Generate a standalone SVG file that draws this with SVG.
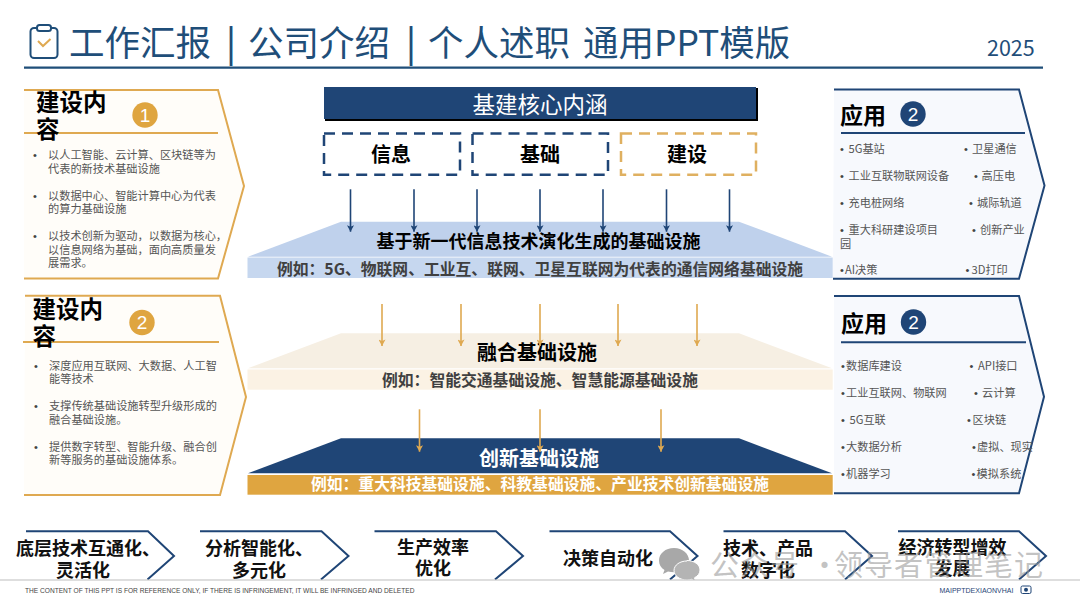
<svg xmlns="http://www.w3.org/2000/svg" width="1080" height="608" viewBox="0 0 1080 608">
<style>
text{font-family:"Noto Sans CJK SC","Liberation Sans",sans-serif}
.b{font-size:11.2px;fill:#555}
.d{font-size:11px;fill:#444;text-anchor:middle;font-family:"Liberation Sans",sans-serif}
.ph{font-size:23.5px;font-weight:700;fill:#000}
.apply{font-size:23px;font-weight:700;fill:#000}
.num{font-size:19px;fill:#fff;text-anchor:middle;font-family:"Liberation Sans",sans-serif}
.gp{fill:#fffdf9;stroke:#dfa951;stroke-width:2}
.np{fill:#f7f9fd;stroke:#1f4576;stroke-width:2}
.gl{stroke:#dfa951;stroke-width:2;fill:none}
.nl{stroke:#1f4576;stroke-width:2;fill:none}
.box{font-size:20px;font-weight:700;fill:#000;text-anchor:middle}
.h{font-size:18px;font-weight:700;text-anchor:middle}
.h2{font-size:20px;font-weight:700;text-anchor:middle}
.s{font-size:15.8px;font-weight:700;text-anchor:middle}
.c{font-size:18px;font-weight:700;fill:#111;text-anchor:middle}
.ch{fill:none;stroke:#1f4576;stroke-width:2}
.an{stroke:#1f4576;stroke-width:1.6;fill:none}
.ag{stroke:#dfa951;stroke-width:1.6;fill:none}
.wm{font-size:29px;fill:#9a9a9a;fill-opacity:.6;letter-spacing:1px}
.dash{fill:none;stroke-width:2.5;stroke-dasharray:11 7}
.ft{font-family:"Liberation Sans",sans-serif}
</style>
<defs>
<marker id="mg" markerUnits="userSpaceOnUse" markerWidth="7" markerHeight="10" refX="3.500" refY="9" viewBox="0 0 7 10"><path d="M0 2.500L3.500 4L7 2.500L3.500 9Z" fill="#dfa951"/></marker>
<marker id="mb" markerUnits="userSpaceOnUse" markerWidth="7" markerHeight="10" refX="3.500" refY="9" viewBox="0 0 7 10"><path d="M0 2.500L3.500 4L7 2.500L3.500 9Z" fill="#1f4576"/></marker>
</defs>
<rect width="1080" height="608" fill="#fff"/>

<g id="header">
<rect x="30.500" y="28" width="27" height="30" rx="3.500" fill="none" stroke="#1f4e79" stroke-width="2"/>
<rect x="37" y="25" width="14" height="6" rx="2.500" fill="#fff" stroke="#1f4e79" stroke-width="2"/>
<path d="M38 41L43 46L50.500 39" fill="none" stroke="#dfa951" stroke-width="2"/>
<text y="56" font-size="35.500" fill="#1f4e79"><tspan x="69">工作汇报</tspan><tspan x="226" font-weight="500">|</tspan><tspan x="248">公司介绍</tspan><tspan x="406" font-weight="500">|</tspan><tspan x="428">个人述职</tspan><tspan x="583">通用PPT模版</tspan></text>
<text x="987" y="56" font-size="21.500" fill="#1f4e79">2025</text>
<path d="M24 67.700H1043" stroke="#1f4e79" stroke-width="2.200"/>
</g>

<g id="panel-left-1">
<path class="gp" d="M24 90H218L244 186L218 278.500H24"/>
<path class="gl" d="M24 133H218"/>
<text class="ph" x="36" y="111">建设内</text><text class="ph" x="36" y="138">容</text>
<circle cx="145" cy="115" r="12.700" fill="#dfa540"/><text class="num" x="145" y="121.500">1</text>
<text class="d" x="35" y="159">•</text><text class="b" x="48" y="159">以人工智能、云计算、区块链等为</text>
<text class="b" x="48" y="172.500">代表的新技术基础设施</text>
<text class="d" x="35" y="200">•</text><text class="b" x="48" y="200">以数据中心、智能计算中心为代表</text>
<text class="b" x="48" y="213">的算力基础设施</text>
<text class="d" x="35" y="240">•</text><text class="b" x="48" y="240">以技术创新为驱动，以数据为核心，</text>
<text class="b" x="48" y="253.500">以信息网络为基础，面向高质量发</text>
<text class="b" x="48" y="267">展需求。</text>
</g>

<g id="panel-left-2">
<path class="gp" d="M25 295.700H220L246 397L220 495H24"/>
<path class="gl" d="M23 342H219"/>
<text class="ph" x="32.500" y="318">建设内</text><text class="ph" x="32.500" y="345">容</text>
<circle cx="142" cy="322.500" r="12.700" fill="#dfa540"/><text class="num" x="142" y="329">2</text>
<text class="d" x="36" y="369.700">•</text><text class="b" x="49" y="369.700">深度应用互联网、大数据、人工智</text>
<text class="b" x="49" y="383.300">能等技术</text>
<text class="d" x="36" y="410.300">•</text><text class="b" x="49" y="410.300">支撑传统基础设施转型升级形成的</text>
<text class="b" x="49" y="424">融合基础设施。</text>
<text class="d" x="36" y="450.700">•</text><text class="b" x="49" y="450.700">提供数字转型、智能升级、融合创</text>
<text class="b" x="49" y="464.300">新等服务的基础设施体系。</text>
</g>

<g id="panel-right-1">
<path class="np" d="M834 89.500H1019L1044.500 185.500L1019 278.700H833"/>
<path class="nl" d="M841 133H1025"/>
<text class="apply" x="840" y="124">应用</text>
<circle cx="913" cy="114" r="12.700" fill="#1f4576"/><text class="num" x="913" y="120.500">2</text>
<text class="d" x="842" y="153">•</text><text class="b" x="848.500" y="153">5G基站</text><text class="d" x="966" y="153">•</text><text class="b" x="972" y="153">卫星通信</text>
<text class="d" x="842" y="180">•</text><text class="b" x="848.500" y="180">工业互联物联网设备</text><text class="d" x="976" y="180">•</text><text class="b" x="981.500" y="180">高压电</text>
<text class="d" x="842" y="207">•</text><text class="b" x="848.500" y="207">充电桩网络</text><text class="d" x="971" y="207">•</text><text class="b" x="977" y="207">城际轨道</text>
<text class="d" x="842" y="234">•</text><text class="b" x="848.500" y="234">重大科研建设项目</text><text class="d" x="974" y="234">•</text><text class="b" x="980" y="234">创新产业</text>
<text class="b" x="840" y="247.700">园</text>
<text class="d" x="842" y="274.300">•</text><text class="b" x="845" y="274.300">AI决策</text><text class="d" x="967.500" y="274.300">•</text><text class="b" x="971.500" y="274.300">3D打印</text>
</g>

<g id="panel-right-2">
<path class="np" d="M834 296H1019L1044 396.700L1019 493.300H834"/>
<path class="nl" d="M841 342.300H1026"/>
<text class="apply" x="841" y="332">应用</text>
<circle cx="913.500" cy="322" r="12.700" fill="#1f4576"/><text class="num" x="913.500" y="328.500">2</text>
<text class="d" x="843" y="370">•</text><text class="b" x="846" y="370">数据库建设</text><text class="d" x="971.500" y="370">•</text><text class="b" x="978" y="370">API接口</text>
<text class="d" x="843" y="397.300">•</text><text class="b" x="846" y="397.300">工业互联网、物联网</text><text class="d" x="976" y="397.300">•</text><text class="b" x="982" y="397.300">云计算</text>
<text class="d" x="843" y="424.300">•</text><text class="b" x="849.500" y="424.300">5G互联</text><text class="d" x="969" y="424.300">•</text><text class="b" x="972.500" y="424.300">区块链</text>
<text class="d" x="843" y="451.300">•</text><text class="b" x="846" y="451.300">大数据分析</text><text class="d" x="974" y="451.300">•</text><text class="b" x="977" y="451.300">虚拟、现实</text>
<text class="d" x="843" y="478.300">•</text><text class="b" x="846" y="478.300">机器学习</text><text class="d" x="973.500" y="478.300">•</text><text class="b" x="976.600" y="478.300">模拟系统</text>
</g>

<g id="banner">
<rect x="325" y="88" width="433" height="33" fill="#000"/>
<rect x="324" y="87" width="432" height="32" fill="#1f4576"/>
<text x="540" y="113" font-size="22.500" fill="#fff" text-anchor="middle">基建核心内涵</text>
</g>
<g id="box-info"><rect class="dash" x="324" y="133.500" width="136" height="41.200" stroke="#1f4576"/><text class="box" x="391" y="162">信息</text></g>
<g id="box-base"><rect class="dash" x="472.500" y="133.500" width="135.500" height="41.200" stroke="#1f4576"/><text class="box" x="540" y="162">基础</text></g>
<g id="box-build"><rect class="dash" x="621" y="133.500" width="135" height="41.200" stroke="#dfb060"/><text class="box" x="687" y="162">建设</text></g>

<g id="layer-1">
<path d="M341 221.700H739L832 256.700H248Z" fill="#bfd1ec"/>
<rect x="247.500" y="257.500" width="585.200" height="20.500" fill="#c6d7ef"/>
<text class="h" x="538.500" y="248" fill="#000">基于新一代信息技术演化生成的基础设施</text>
<text class="s" x="540" y="274.500" fill="#404040">例如：5G、物联网、工业互、联网、卫星互联网为代表的通信网络基础设施</text>
</g>
<g id="layer-2">
<path d="M341 333.300H739L832 368.300H248Z" fill="#f6efe3"/>
<rect x="247.500" y="369.500" width="585.200" height="20.200" fill="#fbf2e4"/>
<text class="h2" x="537" y="360" fill="#000">融合基础设施</text>
<text class="s" x="540" y="386" fill="#404040">例如：智能交通基础设施、智慧能源基础设施</text>
</g>
<g id="layer-3">
<path d="M341 438.300H739L832 473.300H248Z" fill="#1f4576"/>
<rect x="247.500" y="475" width="585.200" height="19.700" fill="#dfa540"/>
<text class="h2" x="539" y="466" fill="#fff">创新基础设施</text>
<text class="s" x="540" y="490" fill="#fff">例如：重大科技基础设施、科教基础设施、产业技术创新基础设施</text>
</g>

<g id="connectors">
<path class="an" marker-end="url(#mb)" d="M350.500 189.300V231.700"/>
<path class="an" marker-end="url(#mb)" d="M414 189.300V231.700"/>
<path class="an" marker-end="url(#mb)" d="M477 189.300V231.700"/>
<path class="an" marker-end="url(#mb)" d="M540 189.300V231.700"/>
<path class="an" marker-end="url(#mb)" d="M603 189.300V231.700"/>
<path class="an" marker-end="url(#mb)" d="M666.500 189.300V231.700"/>
<path class="an" marker-end="url(#mb)" d="M729.500 189.300V231.700"/>
<path class="ag" marker-end="url(#mg)" d="M382 304V346"/>
<path class="ag" marker-end="url(#mg)" d="M461 304V346"/>
<path class="ag" marker-end="url(#mg)" d="M540 304V346"/>
<path class="ag" marker-end="url(#mg)" d="M618 304V346"/>
<path class="ag" marker-end="url(#mg)" d="M697 304V346"/>
<path class="ag" marker-end="url(#mg)" d="M419.500 409.300V451.700"/>
<path class="ag" marker-end="url(#mg)" d="M540 409.300V451.700"/>
<path class="ag" marker-end="url(#mg)" d="M661 409.300V451.700"/>
</g>

<g id="step-1"><path class="ch" d="M26 531.300H148L174 556L147.500 579.500"/><text class="c" x="88" y="555">底层技术互通化、</text><text class="c" x="83" y="577">灵活化</text></g>
<g id="step-2"><path class="ch" d="M200 531.300H321.500L348.500 556L321 579.500"/><text class="c" x="259" y="555">分析智能化、</text><text class="c" x="259" y="577">多元化</text></g>
<g id="step-3"><path class="ch" d="M374.500 531.300H496L523 556L495 579.500"/><text class="c" x="433" y="553.500">生产效率</text><text class="c" x="433" y="575">优化</text></g>
<g id="step-4"><path class="ch" d="M549.500 531.300H670L697.500 556L670 579.500"/><text class="c" x="608" y="564.500">决策自动化</text></g>
<g id="step-5"><path class="ch" d="M723.500 531.300H845L872 556L845 579.500"/><text class="c" x="768" y="555">技术、产品</text><text class="c" x="768" y="577">数字化</text></g>
<g id="step-6"><path class="ch" d="M898 531.300H1019L1046 556L1019 579.500"/><text class="c" x="952.500" y="553.500">经济转型增效</text><text class="c" x="952.500" y="575">发展</text></g>

<g id="watermark">
<path d="M674 548c-8.500 0-15 5.500-15 12.500 0 4 2 7.500 5.500 9.500l-1.500 4 5-2.500c2 .5 4 .8 6 .8 8.500 0 15-5.500 15-12s-6.500-12.300-15-12.300Z" fill="#a8a8a8"/>
<path d="M687 561c-7 0-13 4-13 9.500 0 5.500 6 9.500 13 9.500 1.500 0 3-.2 4.500-.7l4 2-1-3.500c3.500-1.800 5.500-4.600 5.500-7.800 0-5.500-6-9.500-13-9.500Z" fill="#b4b4b4" stroke="#fff"/>
<text class="wm" y="576"><tspan x="710">公众号</tspan><tspan x="810">·</tspan><tspan x="834">领导者管理笔记</tspan></text>
</g>

<g id="footer">
<rect x="0" y="580" width="1080" height="28" fill="#fff"/>
<path d="M0 580H1080" stroke="#bdbdbd" stroke-width="1.200"/>
<text class="ft" x="25" y="592.500" font-size="6.600" fill="#444">THE CONTENT OF THIS PPT IS FOR REFERENCE ONLY, IF THERE IS INFRINGEMENT, IT WILL BE INFRINGED AND DELETED</text>
<text class="ft" x="939.500" y="592.500" font-size="7" fill="#1f4576">MAIPPTDEXIAONVHAI</text>
<rect x="1021" y="586" width="10" height="7.500" rx="1.500" fill="none" stroke="#1f4576"/><circle cx="1026" cy="589.700" r="2" fill="#1f4576"/>
</g>
</svg>
